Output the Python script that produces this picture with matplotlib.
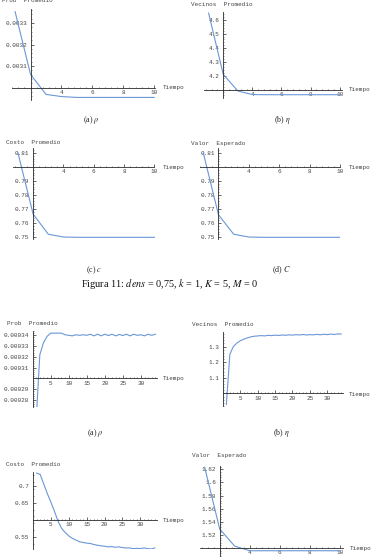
import matplotlib
matplotlib.use("Agg")
import matplotlib.pyplot as plt
from matplotlib.ticker import FixedLocator, FixedFormatter, AutoMinorLocator

W, H = 376, 559
plt.rcParams['mathtext.fontset'] = 'stix'

# ---------------- data ----------------
t10 = [1, 2, 3, 4, 5, 6, 7, 8, 9, 10]
t34 = list(range(1, 35))

# Figure 11 (top): dens=0.75, k=1, K=5, M=0
rho_a = [0.003353, 0.003061, 0.002968, 0.002958, 0.002954, 0.002954,
         0.002954, 0.002954, 0.002954, 0.002954]
eta_a = [4.648, 4.21, 4.09, 4.064, 4.063, 4.063, 4.063, 4.063, 4.063, 4.063]
c_a = [0.810, 0.7665, 0.7522, 0.7502, 0.7500, 0.7500, 0.7500, 0.7500, 0.7500, 0.7500]
C_a = [0.810, 0.766, 0.7522, 0.7502, 0.7500, 0.7500, 0.7500, 0.7500, 0.7500, 0.7500]

# next figure
rho_b = [0.000262, 0.000322, 0.000333, 0.000339, 0.000342, 0.000342, 0.000342,
         0.000342, 0.0003405, 0.000340, 0.0003395, 0.0003405, 0.000340,
         0.0003405, 0.000340, 0.000341, 0.0003395, 0.000341, 0.0003395,
         0.000341, 0.0003398, 0.000341, 0.0003395, 0.0003408, 0.0003398,
         0.000341, 0.0003395, 0.000341, 0.000340, 0.0003405, 0.0003395,
         0.000341, 0.000340, 0.000341]
eta_b = [0.93, 1.25, 1.30, 1.322, 1.337, 1.347, 1.355, 1.362, 1.366, 1.368,
         1.370, 1.368, 1.372, 1.370, 1.373, 1.371, 1.374, 1.372, 1.375, 1.373,
         1.376, 1.374, 1.377, 1.374, 1.376, 1.375, 1.378, 1.375, 1.379, 1.376,
         1.380, 1.377, 1.381, 1.380]
c_b = [0.737, 0.733, 0.705, 0.677, 0.652, 0.625, 0.596, 0.575, 0.563, 0.553,
       0.546, 0.541, 0.536, 0.534, 0.532, 0.531, 0.528, 0.526, 0.524, 0.523,
       0.521, 0.522, 0.520, 0.521, 0.519, 0.518, 0.518, 0.516, 0.517, 0.516,
       0.518, 0.516, 0.515, 0.518]
C_b = [1.623, 1.529, 1.503, 1.496, 1.496, 1.496, 1.496, 1.496, 1.496, 1.496]

ylabels = ["Prob  Promedio", "Vecinos  Promedio", "Costo  Promedio", "Valor  Esperado"]
xlabel = "Tiempo"
captions = ["(a) $\\rho$", "(b) $\\eta$", "(c) $c$", "(d) $C$"]
fig_caption = "Figura 11: $dens$ = 0,75, $k$ = 1, $K$ = 5, $M$ = 0"

xt_short = [4, 6, 8, 10]
xt_long = [5, 10, 15, 20, 25, 30]

# ---------------- style ----------------
LINE = '#6a97d6'
AX = '#2a2a2a'
TXT = '#444444'
MONO = 'Liberation Mono'
FS = 4.3

fig = plt.figure(figsize=(W / 100, H / 100), dpi=100)


def fx(px):
    return px / W


def fy(py):
    return 1 - py / H


def panel(box, xlim, ylim, origin, x, y, xt, yt, ylab, ylab_pos, xlab_pos):
    l, r, t, b = box
    ax = fig.add_axes([fx(l), fy(b), (r - l) / W, (b - t) / H])
    ax.patch.set_alpha(0)
    ax.plot(x, y, color=LINE, lw=0.8, solid_joinstyle='round')
    ax.set_xlim(xlim)
    ax.set_ylim(ylim)
    for s in ['top', 'right']:
        ax.spines[s].set_visible(False)
    ax.spines['left'].set_position(('data', origin[0]))
    ax.spines['bottom'].set_position(('data', origin[1]))
    for s in ['left', 'bottom']:
        ax.spines[s].set_color(AX)
        ax.spines[s].set_linewidth(0.6)
    ax.xaxis.set_major_locator(FixedLocator(xt))
    ax.xaxis.set_major_formatter(FixedFormatter([f"{v:g}" for v in xt]))
    ax.yaxis.set_major_locator(FixedLocator(yt))
    ax.yaxis.set_major_formatter(FixedFormatter([f"{v:g}" for v in yt]))
    ax.xaxis.set_minor_locator(AutoMinorLocator(5))
    ax.yaxis.set_minor_locator(AutoMinorLocator(5))
    ax.tick_params(which='major', direction='in', length=2.0, width=0.5,
                   color=AX, pad=1.6, labelsize=FS, labelcolor=TXT)
    ax.tick_params(which='minor', direction='in', length=1.0, width=0.4, color=AX)
    ax.tick_params(axis='y', which='major', pad=2.6)
    for lab in ax.get_xticklabels() + ax.get_yticklabels():
        lab.set_fontfamily(MONO)
    fig.text(fx(ylab_pos[0]), fy(ylab_pos[1]), ylab, family=MONO, fontsize=FS,
             color=TXT, ha='left', va='center')
    fig.text(fx(xlab_pos[0]), fy(xlab_pos[1]), xlabel, family=MONO, fontsize=FS,
             color=TXT, ha='left', va='center')
    return ax


# top figure
panel((12, 155, 9.3, 100), (0.8, 10.05), (0.002942, 0.003364), (2, 0.003),
      t10, rho_a, xt_short, [0.0031, 0.0032, 0.0033], ylabels[0], (2, 1), (163, 87.7))
panel((203.5, 342, 12, 97.5), (0.65, 10.15), (4.043, 4.656), (2, 4.1),
      t10, eta_a, xt_short, [4.2, 4.3, 4.4, 4.5, 4.6], ylabels[1], (191, 4), (349, 89.3))
panel((13.4, 154.5, 148, 239), (0.7, 10.0), (0.7488, 0.8135), (2, 0.80),
      t10, c_a, xt_short, [0.75, 0.76, 0.77, 0.78, 0.79, 0.81], ylabels[2], (6, 142.7), (163, 167.3))
panel((199.5, 340, 148, 239), (0.75, 10.0), (0.7488, 0.8135), (2, 0.80),
      t10, C_a, xt_short, [0.75, 0.76, 0.77, 0.78, 0.79, 0.81], ylabels[3], (191, 143.3), (348.7, 167.3))

# bottom figure
panel((32.6, 156.8, 331, 406.7), (0, 34.4), (0.0002738, 0.000344), (0, 0.0003),
      t34, rho_b, xt_long, [0.00028, 0.00029, 0.00031, 0.00032, 0.00033, 0.00034],
      ylabels[0], (7, 323.3), (162.3, 378.3))
panel((222.9, 343.3, 331.7, 406), (0, 34.6), (0.92, 1.395), (0, 1.0),
      t34, eta_b, xt_long, [1.1, 1.2, 1.3], ylabels[1], (192, 325), (349, 394.3))
panel((33, 156.5, 471.7, 549.3), (0, 34.5), (0.514, 0.741), (0, 0.6),
      t34, c_b, xt_long, [0.55, 0.65, 0.7], ylabels[2], (6, 465), (163, 520.7))
panel((199.9, 342.7, 466, 556), (0.68, 10.2), (1.488, 1.625), (2, 1.5),
      t10, C_b, xt_short, [1.52, 1.54, 1.56, 1.58, 1.6, 1.62], ylabels[3], (192, 456), (349.7, 548.3))

# captions
CAP = dict(family='Liberation Serif', fontsize=5.8, color='#222222', ha='center', va='center')
fig.text(fx(91), fy(120), captions[0], **CAP)
fig.text(fx(282), fy(120), captions[1], **CAP)
fig.text(fx(94), fy(270.5), captions[2], **CAP)
fig.text(fx(281.5), fy(270.5), captions[3], **CAP)
fig.text(fx(169.5), fy(284.3), fig_caption, family='Liberation Serif', fontsize=7.4,
         color='#111111', ha='center', va='center')
fig.text(fx(95), fy(433.3), captions[0], **CAP)
fig.text(fx(281.5), fy(432.7), captions[1], **CAP)

fig.savefig("out.png", dpi=100)
